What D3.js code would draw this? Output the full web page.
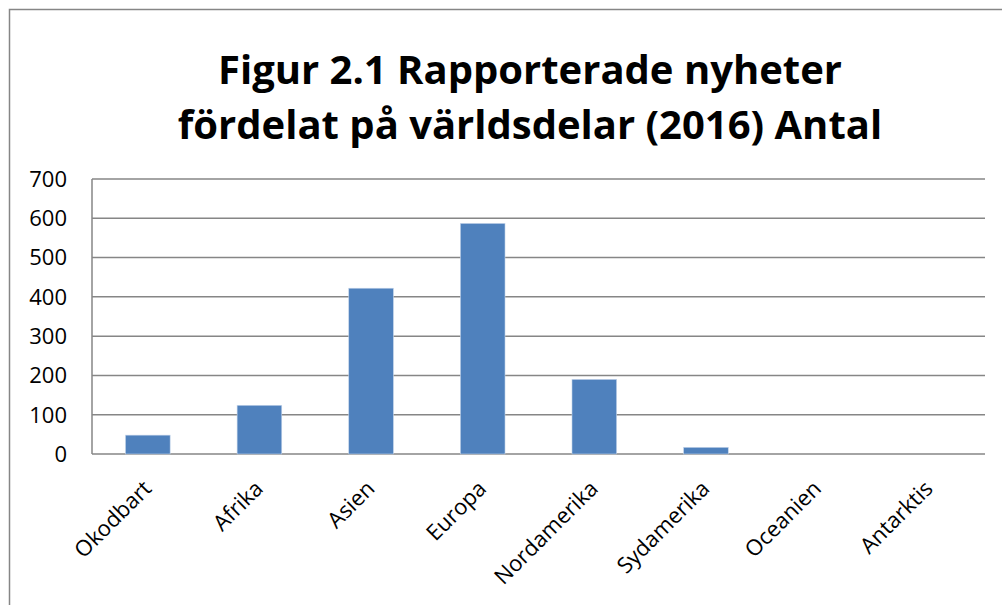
<!DOCTYPE html>
<html>
<head>
<meta charset="utf-8">
<script src="https://cdn.jsdelivr.net/npm/d3@7"></script>
<style>
  body { margin: 0; background: #fff; }
  text { font-family: "Open Sans", Lato, sans-serif; fill: #000; }
</style>
</head>
<body>
<div id="chart"></div>
<script>
var width = 1002,
    height = 605;

var titleLines = ["Figur 2.1 Rapporterade nyheter", "fördelat på världsdelar (2016) Antal"];

var categories = ["Okodbart", "Afrika", "Asien", "Europa", "Nordamerika", "Sydamerika", "Oceanien", "Antarktis"];
var values = [48, 124, 422, 587, 190, 17, 0, 0];
var yTicks = [0, 100, 200, 300, 400, 500, 600, 700];

var margin = { left: 92, right: 17, top: 179, bottom: 151 };
var plotW = width - margin.left - margin.right,
    plotH = height - margin.top - margin.bottom;

var svg = d3.select("#chart").append("svg")
    .attr("width", width)
    .attr("height", height);

// outer frame (only top and left visible in the crop)
svg.append("path")
   .attr("d", "M9.5," + height + "V9.5H" + width)
   .attr("fill", "none")
   .attr("stroke", "#868686")
   .attr("stroke-width", 1.5);

// title
var title = svg.append("text")
   .attr("text-anchor", "middle")
   .style("font-weight", "bold")
   .style("font-size", "40px");
title.selectAll("tspan").data(titleLines).enter().append("tspan")
   .attr("x", 530)
   .attr("y", function(d, i) { return 84 + i * 55; })
   .text(function(d) { return d; });

var x = d3.scaleBand().domain(categories).range([0, plotW]).paddingInner(0.6).paddingOuter(0.3);
var y = d3.scaleLinear().domain([0, 700]).range([plotH, 0]);

var g = svg.append("g").attr("transform", "translate(" + margin.left + "," + margin.top + ")");

// gridlines
g.selectAll("line.grid").data(yTicks).enter().append("line")
   .attr("class", "grid")
   .attr("x1", 0).attr("x2", plotW)
   .attr("y1", function(d) { return y(d); })
   .attr("y2", function(d) { return y(d); })
   .attr("stroke", "#868686")
   .attr("stroke-width", 1.5);

g.append("line")
   .attr("x1", 0).attr("x2", 0)
   .attr("y1", 0).attr("y2", plotH)
   .attr("stroke", "#868686")
   .attr("stroke-width", 1.5);

// y tick labels
g.selectAll("text.ylab").data(yTicks).enter().append("text")
   .attr("class", "ylab")
   .attr("x", -25)
   .attr("y", function(d) { return y(d); })
   .attr("dy", "0.36em")
   .attr("text-anchor", "end")
   .style("font-size", "22px")
   .text(function(d) { return d; });

// bars
g.selectAll("rect.bar").data(values).enter().append("rect")
   .attr("class", "bar")
   .attr("x", function(d, i) { return x(categories[i]); })
   .attr("width", x.bandwidth())
   .attr("y", function(d) { return y(d); })
   .attr("height", function(d) { return plotH - y(d); })
   .attr("fill", "#4f81bd")
   .attr("stroke", "#c5d5ea")
   .attr("stroke-width", 0.6);

// category labels
g.selectAll("text.xlab").data(categories).enter().append("text")
   .attr("class", "xlab")
   .attr("text-anchor", "end")
   .style("font-size", "22px")
   .attr("transform", function(d) {
     var cx = x(d) + x.bandwidth() / 2 + 5;
     return "translate(" + cx + "," + (plotH + 36) + ") rotate(-45)";
   })
   .text(function(d) { return d; });
</script>
</body>
</html>
